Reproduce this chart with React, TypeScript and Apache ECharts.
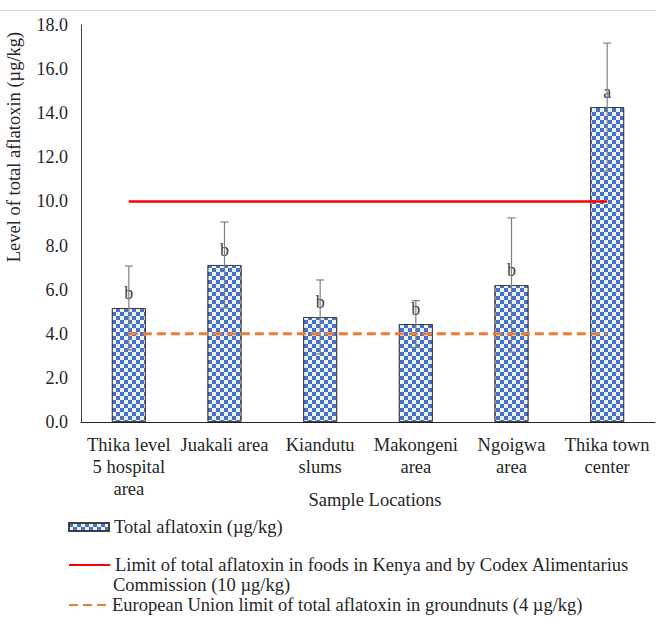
import React, { useEffect, useRef } from "react";
import * as echarts from "echarts";

const categories = [
  "Thika level\n5 hospital\narea",
  "Juakali area",
  "Kiandutu\nslums",
  "Makongeni\narea",
  "Ngoigwa\narea",
  "Thika town\ncenter",
];
const meanValues = [5.17, 7.12, 4.76, 4.44, 6.21, 14.28];
const sdValues = [1.9, 1.95, 1.68, 1.06, 3.04, 2.9];
const letters = ["b", "b", "b", "b", "b", "a"];
const kenyaLimit = 10;
const euLimit = 4;
const yTicks = { min: 0, max: 18, interval: 2 };

const SERIES_BAR = "Total aflatoxin (µg/kg)";
const SERIES_KENYA =
  "Limit of total aflatoxin in foods in Kenya and by Codex Alimentarius Commission (10 µg/kg)";
const SERIES_EU = "European Union limit of total aflatoxin in groundnuts (4 µg/kg)";

const FONT = "Liberation Serif, Times New Roman, serif";
const FS = 18.5;
const TEXT = "#262626";

export default function App() {
  const ref = useRef<HTMLDivElement>(null);

  useEffect(() => {
    document.body.style.margin = "0";
    const chart = echarts.init(ref.current!, null, { renderer: "svg" });
    const errData = meanValues.map((m, i) => [i, m - sdValues[i], m + sdValues[i]]);

    const legendText = { fontFamily: FONT, fontSize: FS, color: TEXT, lineHeight: 20 };

    const option: any = {
      animation: false,
      backgroundColor: "#ffffff",
      textStyle: { fontFamily: FONT },
      grid: { left: 81, right: 1, top: 25, bottom: 203 },
      xAxis: {
        type: "category",
        data: categories,
        axisLine: { lineStyle: { color: "#262626", width: 1 } },
        axisTick: { show: false },
        axisLabel: {
          interval: 0,
          margin: 12,
          fontFamily: FONT,
          fontSize: FS,
          lineHeight: 22,
          color: TEXT,
        },
      },
      yAxis: {
        type: "value",
        min: yTicks.min,
        max: yTicks.max,
        interval: yTicks.interval,
        axisLine: { show: true, lineStyle: { color: "#404040", width: 1 } },
        axisTick: { show: false },
        splitLine: { show: false },
        axisLabel: {
          margin: 13,
          fontFamily: FONT,
          fontSize: 18,
          color: TEXT,
          formatter: (v: number) => v.toFixed(1),
        },
      },
      legend: [
        {
          data: [SERIES_BAR],
          left: 68,
          top: 517,
          padding: 0,
          orient: "vertical",
          icon: "rect",
          itemWidth: 40,
          itemHeight: 8,
          textStyle: legendText,
        },
        {
          data: [SERIES_KENYA],
          left: 68,
          top: 555,
          padding: 0,
          orient: "vertical",
          itemWidth: 41,
          itemHeight: 14,
          itemStyle: { opacity: 0 },
          formatter: () =>
            "Limit of total aflatoxin in foods in Kenya and by Codex Alimentarius",
          textStyle: legendText,
        },
        {
          data: [SERIES_EU],
          left: 68,
          top: 595,
          padding: 0,
          orient: "vertical",
          itemWidth: 38,
          itemHeight: 14,
          itemStyle: { opacity: 0 },
          textStyle: legendText,
        },
      ],
      graphic: [
        {
          type: "line",
          shape: { x1: 0, y1: 10.5, x2: 656, y2: 10.5 },
          style: { stroke: "#d9d9d9", lineWidth: 1 },
        },
        {
          type: "text",
          x: 14,
          y: 147,
          rotation: Math.PI / 2,
          style: {
            text: "Level of total aflatoxin (µg/kg)",
            font: `${FS}px ${FONT}`,
            fill: TEXT,
            textAlign: "center",
            textVerticalAlign: "middle",
          },
        },
        {
          type: "text",
          x: 375,
          y: 500,
          style: {
            text: "Sample Locations",
            font: `${FS}px ${FONT}`,
            fill: TEXT,
            textAlign: "center",
            textVerticalAlign: "middle",
          },
        },
        {
          type: "text",
          x: 113,
          y: 585,
          style: {
            text: "Commission (10 µg/kg)",
            font: `${FS}px ${FONT}`,
            fill: TEXT,
            textAlign: "left",
            textVerticalAlign: "middle",
          },
        },
      ],
      series: [
        {
          name: SERIES_BAR,
          type: "bar",
          data: meanValues,
          barWidth: 34,
          itemStyle: {
            color: "#4472C4",
            borderColor: "#404040",
            borderWidth: 1,
            decal: {
              symbol: "rect",
              symbolSize: 1,
              color: "rgba(255,255,255,0.9)",
              dashArrayX: [
                [4, 4],
                [0, 4, 4, 0],
              ],
              dashArrayY: [4, 0],
              rotation: 0,
            },
          },
          label: {
            show: true,
            position: "top",
            distance: 6,
            formatter: (p: any) => letters[p.dataIndex],
            fontFamily: FONT,
            fontSize: 18,
            color: "#404040",
          },
          z: 2,
        },
        {
          name: "error",
          type: "custom",
          data: errData,
          z: 3,
          renderItem: (params: any, api: any) => {
            const idx = api.value(0);
            const lo = api.coord([idx, api.value(1)]);
            const hi = api.coord([idx, api.value(2)]);
            const cap = 4;
            const style = { stroke: "#808080", lineWidth: 1.2 };
            return {
              type: "group",
              children: [
                { type: "line", shape: { x1: hi[0], y1: hi[1], x2: lo[0], y2: lo[1] }, style },
                { type: "line", shape: { x1: hi[0] - cap, y1: hi[1], x2: hi[0] + cap, y2: hi[1] }, style },
                { type: "line", shape: { x1: lo[0] - cap, y1: lo[1], x2: lo[0] + cap, y2: lo[1] }, style },
              ],
            };
          },
        },
        {
          name: SERIES_KENYA,
          type: "line",
          data: categories.map(() => kenyaLimit),
          symbol: "none",
          showSymbol: false,
          lineStyle: { color: "#FF0000", width: 2.5 },
          itemStyle: { color: "#FF0000" },
          z: 4,
        },
        {
          name: SERIES_EU,
          type: "line",
          data: categories.map(() => euLimit),
          symbol: "none",
          showSymbol: false,
          lineStyle: { color: "#ED7D31", width: 3, type: [9, 5] },
          itemStyle: { color: "#ED7D31" },
          z: 4,
        },
      ],
    };
    chart.setOption(option);
    return () => chart.dispose();
  }, []);

  return <div ref={ref} style={{ width: 656, height: 625 }} />;
}
